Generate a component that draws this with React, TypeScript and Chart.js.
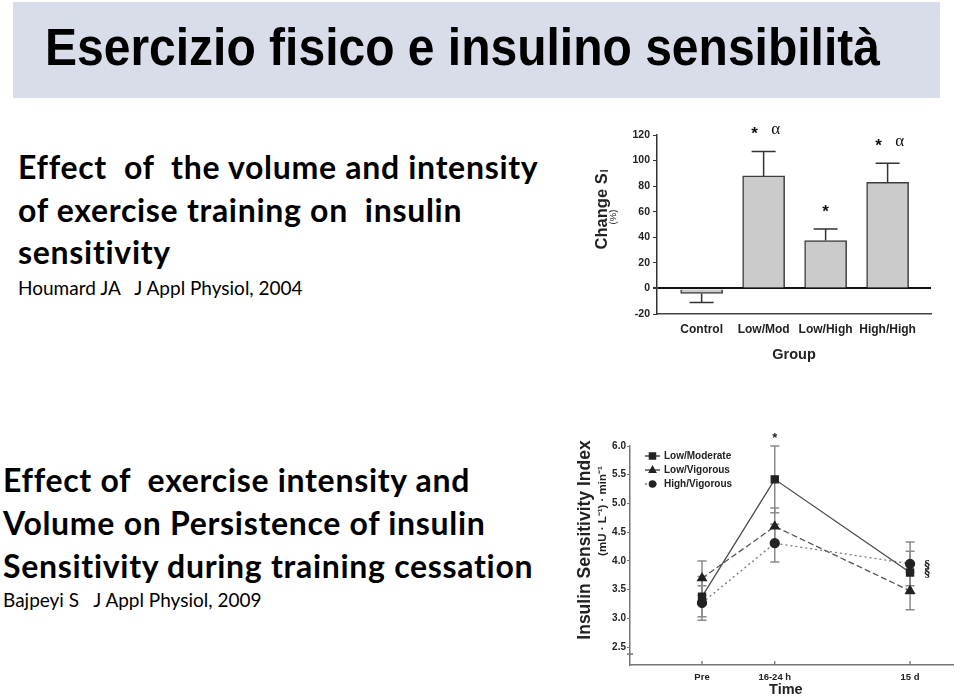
import React, { useEffect, useRef } from 'react';
import { Chart, registerables } from 'chart.js';

Chart.register(...registerables);

// ---------- Chart 1 data (Houmard 2004) ----------
const groups = ['Control', 'Low/Mod', 'Low/High', 'High/High'];
const groupPos = [0, 1, 2, 3];
const changeSI = [-4, 88, 37.5, 83];
const changeSE = [7, 19, 9, 15];
const sigMarks1 = ['', '* α', '*', '* α'];
const yTicks1 = [-20, 0, 20, 40, 60, 80, 100, 120];

// ---------- Chart 2 data (Bajpeyi 2009) ----------
const timeLabels = ['Pre', '16-24 h', '15 d'];
const timePos = [0, 1, 2.86];
const lowModerate = [3.38, 5.42, 3.8];
const lowModerateSE = [0.35, 0.58, 0.37];
const lowVigorous = [3.7, 4.6, 3.48];
const lowVigorousSE = [0.3, 0.32, 0.33];
const highVigorous = [3.27, 4.31, 3.95];
const highVigorousSE = [0.3, 0.33, 0.38];
const timeSig = ['', '*', ''];
const lowModerateMark = ['', '', '§'];
const highVigorousMark = ['', '', '§'];
const yTicks2 = [2.5, 3.0, 3.5, 4.0, 4.5, 5.0, 5.5, 6.0];
const yAxisBreak2 = 2.38;

const SANS = '"Liberation Sans", Arial, sans-serif';
const CAL = 'Lato, "Open Sans", sans-serif';

function TextLine({ x, baseline, size, weight, family, text, color, spacing, stretchY }: any) {
  return (
    <div
      style={{
        position: 'absolute',
        left: x,
        top: baseline - 100,
        whiteSpace: 'pre',
        fontFamily: family,
        fontSize: size,
        fontWeight: weight,
        color: color || '#000',
        lineHeight: 'normal',
        letterSpacing: spacing || 0,
        fontVariantLigatures: 'none',
        transform: stretchY ? `scaleY(${stretchY})` : undefined,
        transformOrigin: '0 100px',
      }}
    >
      <span style={{ display: 'inline-block', width: 0, height: 100 }}></span>
      {text}
    </div>
  );
}

function BarChart() {
  const ref = useRef<HTMLCanvasElement>(null);
  useEffect(() => {
    const decor = {
      id: 'decor1',
      afterDatasetsDraw(chart: any) {
        const ctx = chart.ctx;
        const meta = chart.getDatasetMeta(0);
        const y = chart.scales.y;
        ctx.save();
        ctx.strokeStyle = '#333';
        ctx.lineWidth = 1.5;
        ctx.fillStyle = '#111';
        ctx.textAlign = 'center';
        ctx.textBaseline = 'middle';
        meta.data.forEach((bar: any, i: number) => {
          const v = changeSI[i];
          const e = changeSE[i];
          const end = v >= 0 ? v + e : v - e;
          const y0 = y.getPixelForValue(v);
          const y1 = y.getPixelForValue(end);
          ctx.beginPath();
          ctx.moveTo(bar.x, y0);
          ctx.lineTo(bar.x, y1);
          ctx.moveTo(bar.x - 12, y1);
          ctx.lineTo(bar.x + 12, y1);
          ctx.stroke();
          const parts = sigMarks1[i] ? sigMarks1[i].split(' ') : [];
          if (parts.length === 1) {
            ctx.font = `bold 17px ${SANS}`;
            ctx.fillText(parts[0], bar.x, y1 - 17);
          } else if (parts.length === 2) {
            ctx.font = `bold 17px ${SANS}`;
            ctx.fillText(parts[0], bar.x - 9, y1 - 17);
            ctx.font = `17px "Liberation Serif", serif`;
            ctx.fillText(parts[1], bar.x + 12, y1 - 22);
          }
        });
        // axis titles
        const ca = chart.chartArea;
        ctx.fillStyle = '#222';
        ctx.save();
        ctx.translate(32, 98);
        ctx.rotate(-Math.PI / 2);
        ctx.font = `bold 16.5px ${SANS}`;
        ctx.textAlign = 'left';
        const main = 'Change S';
        const w = ctx.measureText(main).width;
        ctx.font = `bold 10px ${SANS}`;
        const ws = ctx.measureText('I').width;
        const total = w + ws;
        ctx.font = `bold 16.5px ${SANS}`;
        ctx.fillText(main, -total / 2, 0);
        ctx.font = `bold 10px ${SANS}`;
        ctx.fillText('I', -total / 2 + w + 1, 3);
        ctx.restore();
        ctx.save();
        ctx.translate(43, 105);
        ctx.rotate(-Math.PI / 2);
        ctx.font = `9.5px ${SANS}`;
        ctx.textAlign = 'center';
        ctx.fillText('(%)', 0, 0);
        ctx.restore();
        ctx.font = `bold 14.5px ${SANS}`;
        ctx.textAlign = 'center';
        ctx.fillText('Group', (ca.left + ca.right) / 2, 243);
        ctx.restore();
      },
    };
    const chart = new Chart(ref.current as HTMLCanvasElement, {
      type: 'bar',
      data: {
        datasets: [
          {
            data: groupPos.map((x, i) => ({ x, y: changeSI[i] })),
            backgroundColor: '#cbcbcb',
            borderColor: '#3c3c3c',
            borderWidth: 1.5,
            barThickness: 42,
          } as any,
        ],
      },
      options: {
        animation: false,
        responsive: false,
        maintainAspectRatio: false,
        layout: { padding: { top: 23, right: 9, left: 0, bottom: 0 } },
        plugins: { legend: { display: false }, tooltip: { enabled: false } },
        scales: {
          x: {
            type: 'linear',
            offset: false,
            min: -0.72,
            max: 3.7,
            afterBuildTicks: (s: any) => {
              s.ticks = groupPos.map((v) => ({ value: v }));
            },
            afterFit: (s: any) => {
              s.height = 56;
            },
            ticks: {
              callback: (v: any) => {
                const k = groupPos.indexOf(v);
                return k >= 0 ? groups[k] : '';
              },
              font: { family: SANS, size: 12, weight: 'bold' },
              color: '#222',
              padding: 8,
              autoSkip: false,
              maxRotation: 0,
            },
            grid: { display: false, drawTicks: false, offset: false },
            border: { display: true, color: '#444', width: 1.5 },
          },
          y: {
            min: -20,
            max: 120,
            afterBuildTicks: (s: any) => {
              s.ticks = yTicks1.map((v) => ({ value: v }));
            },
            afterFit: (s: any) => {
              s.width = 87;
            },
            ticks: {
              font: { family: SANS, size: 10.5, weight: 'bold' },
              color: '#222',
              padding: 3,
            },
            grid: {
              drawOnChartArea: true,
              color: (c: any) => (c.tick && c.tick.value === 0 ? '#111' : 'rgba(0,0,0,0)'),
              lineWidth: (c: any) => (c.tick && c.tick.value === 0 ? 2 : 1),
              tickColor: '#333',
              tickLength: 4,
            },
            border: { display: true, color: '#333', width: 1.5 },
          },
        },
      },
      plugins: [decor],
    } as any);
    return () => chart.destroy();
  }, []);
  return <canvas ref={ref} width={370} height={258} style={{ position: 'absolute', left: 570, top: 112, width: 370, height: 258 }} />;
}

function LineChart() {
  const ref = useRef<HTMLCanvasElement>(null);
  useEffect(() => {
    const seSets = [lowModerateSE, lowVigorousSE, highVigorousSE];
    const valSets = [lowModerate, lowVigorous, highVigorous];
    const markSets = [lowModerateMark, null, highVigorousMark];
    const legendNames = ['Low/Moderate', 'Low/Vigorous', 'High/Vigorous'];
    const decor = {
      id: 'decor2',
      beforeDatasetsDraw(chart: any) {
        const ctx = chart.ctx;
        const x = chart.scales.x;
        const y = chart.scales.y;
        ctx.save();
        ctx.strokeStyle = '#8a8a8a';
        ctx.lineWidth = 1.5;
        valSets.forEach((vals, d) => {
          vals.forEach((v, i) => {
            const px = x.getPixelForValue(timePos[i]);
            const e = seSets[d][i];
            const yt = y.getPixelForValue(v + e);
            const yb = y.getPixelForValue(v - e);
            ctx.beginPath();
            ctx.moveTo(px, yt);
            ctx.lineTo(px, yb);
            ctx.moveTo(px - 4.5, yt);
            ctx.lineTo(px + 4.5, yt);
            ctx.moveTo(px - 4.5, yb);
            ctx.lineTo(px + 4.5, yb);
            ctx.stroke();
          });
        });
        ctx.restore();
      },
      afterDatasetsDraw(chart: any) {
        const ctx = chart.ctx;
        const x = chart.scales.x;
        const y = chart.scales.y;
        const ca = chart.chartArea;
        ctx.save();
        // x tick marks pointing up
        ctx.strokeStyle = '#666';
        ctx.lineWidth = 1.2;
        timePos.forEach((t) => {
          const px = x.getPixelForValue(t);
          ctx.beginPath();
          ctx.moveTo(px, ca.bottom);
          ctx.lineTo(px, ca.bottom - 4);
          ctx.stroke();
        });
        // y axis break mark
        const yb = y.getPixelForValue(yAxisBreak2);
        ctx.strokeStyle = '#777';
        ctx.lineWidth = 1.5;
        ctx.beginPath();
        ctx.moveTo(ca.left - 3, yb);
        ctx.lineTo(ca.left + 3, yb);
        ctx.stroke();
        // significance marks
        ctx.fillStyle = '#222';
        ctx.textAlign = 'center';
        ctx.textBaseline = 'middle';
        timeSig.forEach((s, i) => {
          if (!s) return;
          const top = Math.max(...valSets.map((vals, d) => vals[i] + seSets[d][i]));
          ctx.font = `bold 13px ${SANS}`;
          ctx.fillText(s, x.getPixelForValue(timePos[i]), y.getPixelForValue(top) - 8);
        });
        markSets.forEach((m, d) => {
          if (!m) return;
          m.forEach((s, i) => {
            if (!s) return;
            ctx.font = `bold 11px "DejaVu Serif", serif`;
            ctx.fillText(s, x.getPixelForValue(timePos[i]) + 17, y.getPixelForValue(valSets[d][i]) + 1);
          });
        });
        // legend
        const lx = ca.left + 15;
        const ly = ca.top + 10;
        chart.data.datasets.forEach((ds: any, d: number) => {
          const yy = ly + d * 14;
          ctx.save();
          ctx.strokeStyle = ds.borderColor;
          ctx.lineWidth = 1.5;
          ctx.setLineDash(ds.borderDash || []);
          ctx.beginPath();
          ctx.moveTo(lx, yy);
          ctx.lineTo(lx + 15, yy);
          ctx.stroke();
          ctx.restore();
          ctx.fillStyle = '#222';
          const r = ds.pointRadius;
          const cx = lx + 7.5;
          if (ds.pointStyle === 'rect') {
            ctx.fillRect(cx - r * 0.75, yy - r * 0.75, r * 1.5, r * 1.5);
          } else if (ds.pointStyle === 'triangle') {
            ctx.beginPath();
            ctx.moveTo(cx, yy - r);
            ctx.lineTo(cx + r * 0.87, yy + r * 0.6);
            ctx.lineTo(cx - r * 0.87, yy + r * 0.6);
            ctx.closePath();
            ctx.fill();
          } else {
            ctx.beginPath();
            ctx.arc(cx, yy, r * 0.85, 0, Math.PI * 2);
            ctx.fill();
          }
          ctx.font = `bold 10px ${SANS}`;
          ctx.textAlign = 'left';
          ctx.fillText(legendNames[d], lx + 19, yy + 0.5);
        });
        // axis titles
        ctx.fillStyle = '#222';
        ctx.textAlign = 'center';
        ctx.save();
        ctx.translate(20, 110);
        ctx.rotate(-Math.PI / 2);
        ctx.font = `bold 17.5px ${SANS}`;
        ctx.fillText('Insulin Sensitivity Index', 0, 0);
        ctx.restore();
        ctx.save();
        ctx.translate(38, 81);
        ctx.rotate(-Math.PI / 2);
        ctx.font = `bold 11.5px ${SANS}`;
        ctx.fillText('(mU · L⁻¹) · min⁻¹', 0, 0);
        ctx.restore();
        ctx.font = `bold 14.5px ${SANS}`;
        ctx.fillText('Time', (ca.left + ca.right) / 2 - 6, 260);
        ctx.restore();
      },
    };
    const chart = new Chart(ref.current as HTMLCanvasElement, {
      type: 'line',
      data: {
        datasets: [
          {
            label: 'Low/Moderate',
            data: timePos.map((t, i) => ({ x: t, y: lowModerate[i] })),
            borderColor: '#4a4a4a',
            borderWidth: 1.3,
            pointStyle: 'rect',
            pointRadius: 5,
            pointBackgroundColor: '#222',
            pointBorderColor: '#222',
          },
          {
            label: 'Low/Vigorous',
            data: timePos.map((t, i) => ({ x: t, y: lowVigorous[i] })),
            borderColor: '#555',
            borderWidth: 1.3,
            borderDash: [6, 3],
            pointStyle: 'triangle',
            pointRadius: 5,
            pointBackgroundColor: '#222',
            pointBorderColor: '#222',
          },
          {
            label: 'High/Vigorous',
            data: timePos.map((t, i) => ({ x: t, y: highVigorous[i] })),
            borderColor: '#777',
            borderWidth: 1.3,
            borderDash: [2, 3],
            pointStyle: 'circle',
            pointRadius: 4.5,
            pointBackgroundColor: '#222',
            pointBorderColor: '#222',
          },
        ],
      },
      options: {
        animation: false,
        responsive: false,
        maintainAspectRatio: false,
        layout: { padding: { top: 16, right: 1, left: 0, bottom: 0 } },
        plugins: { legend: { display: false }, tooltip: { enabled: false } },
        scales: {
          x: {
            type: 'linear',
            offset: false,
            min: -0.99,
            max: 3.46,
            afterBuildTicks: (s: any) => {
              s.ticks = timePos.map((v) => ({ value: v }));
            },
            afterFit: (s: any) => {
              s.height = 32;
            },
            ticks: {
              callback: (v: any) => {
                const k = timePos.indexOf(v);
                return k >= 0 ? timeLabels[k] : '';
              },
              font: { family: SANS, size: 9.5, weight: 'bold' },
              color: '#222',
              padding: 7,
              autoSkip: false,
              maxRotation: 0,
            },
            grid: { display: false, drawTicks: false },
            border: { display: true, color: '#777', width: 1.5 },
          },
          y: {
            min: 2.19,
            max: 6.0,
            afterBuildTicks: (s: any) => {
              s.ticks = yTicks2.map((v) => ({ value: v }));
            },
            afterFit: (s: any) => {
              s.width = 65;
            },
            ticks: {
              callback: (v: any) => Number(v).toFixed(1),
              font: { family: SANS, size: 10, weight: 'bold' },
              color: '#222',
              padding: 1,
            },
            grid: { drawOnChartArea: false, tickColor: '#777', tickLength: 3 },
            border: { display: true, color: '#777', width: 1.5 },
          },
        },
      },
      plugins: [decor],
    } as any);
    return () => chart.destroy();
  }, []);
  return <canvas ref={ref} width={395} height={267} style={{ position: 'absolute', left: 565, top: 430, width: 395, height: 267 }} />;
}

export default function App() {
  return (
    <div style={{ position: 'absolute', left: 0, top: 0, width: 960, height: 697, background: '#fff', overflow: 'hidden' }}>
      <div style={{ position: 'absolute', left: 13, top: 2, width: 927, height: 96, background: '#d9dde9' }} />
      <TextLine x={45} baseline={65} size={48} weight="bold" family={SANS} stretchY={1.07} text="Esercizio fisico e insulino sensibilità" />

      <TextLine x={18} baseline={179} size={32} weight="bold" family={CAL} spacing={0.7} text="Effect  of  the volume and intensity" />
      <TextLine x={18} baseline={222} size={32} weight="bold" family={CAL} spacing={0.7} text="of exercise training on  insulin" />
      <TextLine x={18} baseline={264} size={32} weight="bold" family={CAL} spacing={0.7} text="sensitivity" />
      <TextLine x={18} baseline={295} size={19} weight="normal" family={CAL} text="Houmard JA   J Appl Physiol, 2004" />

      <TextLine x={3} baseline={492} size={32} weight="bold" family={CAL} spacing={0.7} text="Effect of  exercise intensity and" />
      <TextLine x={3} baseline={535} size={32} weight="bold" family={CAL} spacing={0.7} text="Volume on Persistence of insulin" />
      <TextLine x={3} baseline={578} size={32} weight="bold" family={CAL} spacing={0.7} text="Sensitivity during training cessation" />
      <TextLine x={3} baseline={607} size={19} weight="normal" family={CAL} text="Bajpeyi S   J Appl Physiol, 2009" />

      <BarChart />
      <LineChart />
    </div>
  );
}
